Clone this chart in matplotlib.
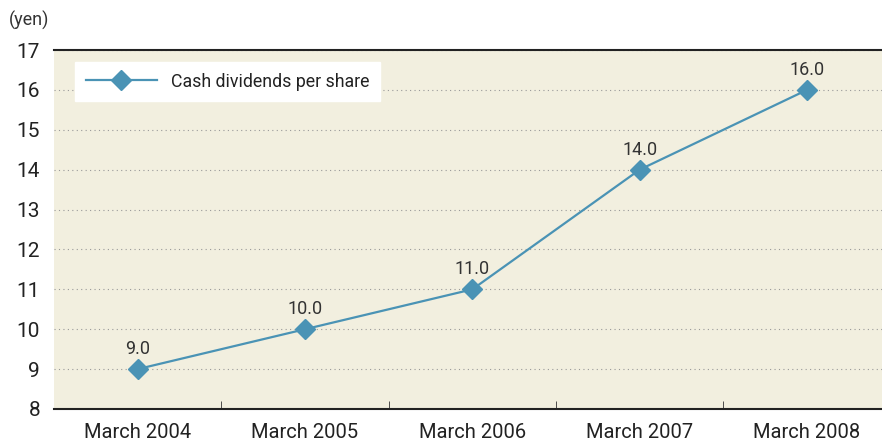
import matplotlib
matplotlib.use('Agg')
import matplotlib.pyplot as plt

years = ['March 2004', 'March 2005', 'March 2006', 'March 2007', 'March 2008']
dividends = [9.0, 10.0, 11.0, 14.0, 16.0]
yticks = list(range(8, 18))

LINE = '#4a93b5'
BG = '#f2efdf'

plt.rcParams['font.family'] = ['Roboto', 'DejaVu Sans']

fig = plt.figure(figsize=(8.82, 4.46), dpi=100)
ax = fig.add_axes([54 / 882, 37 / 446, 1 - 54 / 882, 359 / 446])
ax.set_facecolor(BG)

x = range(len(years))
ax.plot(x, dividends, color=LINE, lw=1.6, marker='D', ms=10,
        markerfacecolor=LINE, markeredgecolor=LINE,
        label='Cash dividends per share', zorder=3)
for i, v in zip(x, dividends):
    ax.annotate('%.1f' % v, (i, v), xytext=(0, 8), textcoords='offset points',
                ha='center', va='bottom', fontsize=13, color='#333333')

ax.set_xlim(-0.5, 4.448)
ax.set_ylim(8, 17)
ax.set_yticks(yticks)
ax.yaxis.grid(True, linestyle=(0, (1, 3)), color='#999999', lw=0.8)
ax.set_axisbelow(True)

ax.set_xticks(list(x))
ax.set_xticklabels(years, fontsize=14.5, color='#222222')
ax.set_xticks([i + 0.5 for i in range(4)], minor=True)
ax.tick_params(axis='x', which='major', length=0, pad=10)
ax.tick_params(axis='x', which='minor', length=6, direction='in', color='#333333')
ax.tick_params(axis='y', length=0, labelsize=15, labelcolor='#222222', pad=10)

for s in ['left', 'right']:
    ax.spines[s].set_visible(False)
ax.spines['top'].set_color('#222222')
ax.spines['bottom'].set_color('#222222')
ax.spines['top'].set_linewidth(1.5)
ax.spines['bottom'].set_linewidth(1.5)

fig.text(9 / 882, 1 - 20 / 446, '(yen)', fontsize=13, color='#333333', va='center')

leg = ax.legend(loc='upper left', bbox_to_anchor=(21 / 828, 1 - 12 / 359),
                frameon=True, fancybox=False, fontsize=12.8, handlelength=4,
                borderpad=0.6, borderaxespad=0)
leg.get_frame().set_edgecolor('white')
leg.get_frame().set_facecolor('white')
leg.get_frame().set_alpha(1)
for t in leg.get_texts():
    t.set_color('#222222')
leg.get_frame().set_width(0)

fig.savefig('out.png', dpi=100)
